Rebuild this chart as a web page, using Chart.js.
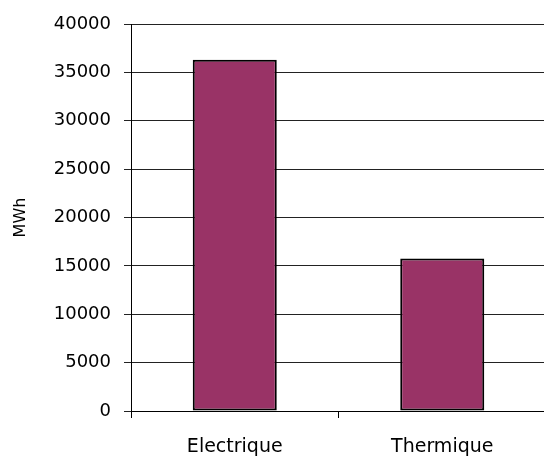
<!DOCTYPE html>
<html><head><meta charset="utf-8">
<script src="https://cdn.jsdelivr.net/npm/chart.js@4/dist/chart.umd.min.js"></script>
<style>html,body{margin:0;padding:0;background:#fff;overflow:hidden}#wrap{width:546px;height:458px;position:relative}</style>
</head><body><div id="wrap"><canvas id="c"></canvas></div>
<script>
const categories = ["Electrique", "Thermique"];
const values = [36300, 15750];
const yTicks = [0, 5000, 10000, 15000, 20000, 25000, 30000, 35000, 40000];
const yTitle = "MWh";

Chart.defaults.font.family = "'DejaVu Sans', Verdana, sans-serif";
Chart.defaults.color = "#000";
new Chart(document.getElementById('c'), {
  type: 'bar',
  data: { labels: categories, datasets: [{ data: values, backgroundColor: '#993366', borderColor: '#000', borderWidth: 2, borderSkipped: false, categoryPercentage: 1, barPercentage: 0.405 }] },
  options: {
    responsive: true, maintainAspectRatio: false, animation: false,
    layout: { padding: { top: 24, right: 0, left: 0, bottom: 0 } },
    plugins: { legend: { display: false }, tooltip: { enabled: false } },
    scales: {
      x: {
        grid: { drawOnChartArea: false, drawTicks: true, tickLength: 7, color: '#000', offset: true },
        border: { color: '#000', width: 1 },
        ticks: { font: { size: 19 }, padding: 18, color: '#000' },
        afterFit: s => { s.height = 47; }
      },
      y: {
        min: 0, max: 40000,
        afterBuildTicks: s => { s.ticks = yTicks.map(v => ({ value: v })); },
        grid: { color: '#222', lineWidth: 1, tickLength: 7 },
        border: { color: '#000', width: 1 },
        ticks: { font: { size: 18 }, padding: 13, color: '#000', callback: v => String(v) },
        title: { display: true, text: yTitle, font: { size: 16 }, color: '#000', padding: { top: 11, bottom: 0 } },
        afterFit: s => { s.width = 131; }
      }
    }
  }
});
</script></body></html>
